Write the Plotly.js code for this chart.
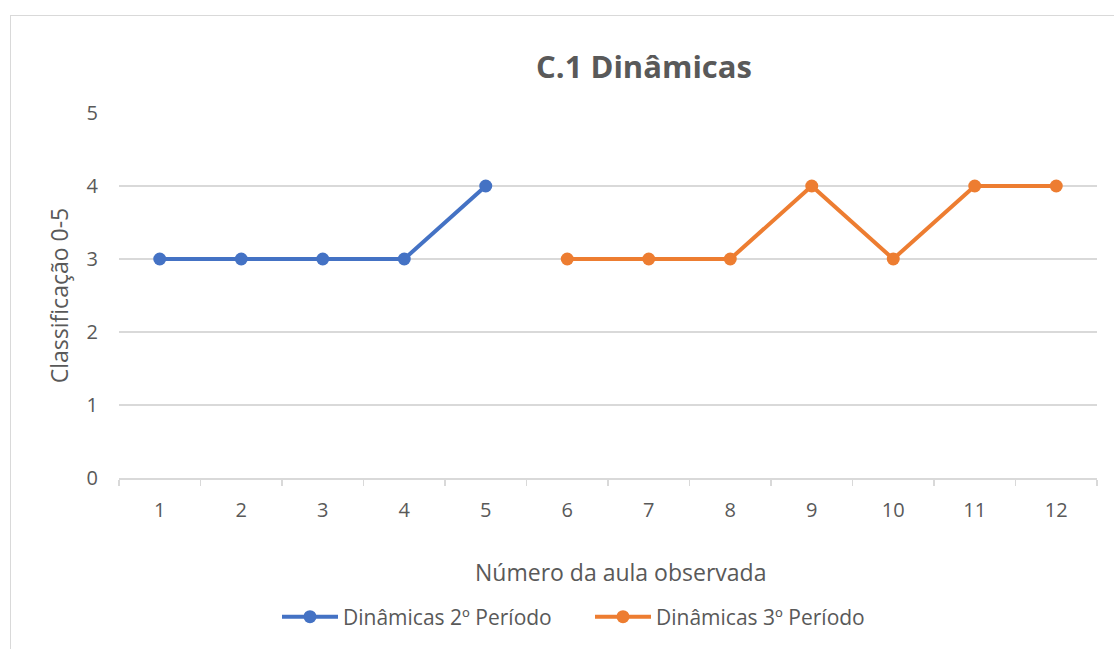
<!DOCTYPE html>
<html><head><meta charset="utf-8">
<script src="https://cdn.plot.ly/plotly-3.0.1.min.js"></script>
<style>
html,body{margin:0;padding:0;background:#fff;overflow:hidden;}
#wrap{position:relative;width:1114px;height:649px;}
#chart{position:absolute;left:0;top:0;width:1114px;height:649px;}
#frame{position:absolute;left:10px;top:15px;width:1200px;height:700px;border-left:1.5px solid #d9d9d9;border-top:1.5px solid #d9d9d9;pointer-events:none;}
</style></head>
<body><div id="wrap"><div id="chart"></div><div id="frame"></div></div>
<script>
const aulas2 = [1, 2, 3, 4, 5];
const valores2 = [3, 3, 3, 3, 4];
const aulas3 = [6, 7, 8, 9, 10, 11, 12];
const valores3 = [3, 3, 3, 4, 3, 4, 4];
const xTicks = [1,2,3,4,5,6,7,8,9,10,11,12];
const yTicks = [0,1,2,3,4,5];
const nome2 = "Dinâmicas 2º Período";
const nome3 = "Dinâmicas 3º Período";
const tituloX = "Número da aula observada";
const tituloY = "Classificação 0-5";

const font = "'Open Sans', sans-serif";
const grey = "#595959";

const traces = [
  {x: aulas2, y: valores2, name: nome2, type: "scatter", mode: "lines+markers",
   line: {color: "#4472C4", width: 4}, marker: {color: "#4472C4", size: 13}},
  {x: aulas3, y: valores3, name: nome3, type: "scatter", mode: "lines+markers",
   line: {color: "#ED7D31", width: 4}, marker: {color: "#ED7D31", size: 13}}
];

const layout = {
  width: 1114, height: 649,
  margin: {l: 119, r: 17, t: 113, b: 171},
  paper_bgcolor: "rgba(0,0,0,0)", plot_bgcolor: "rgba(0,0,0,0)",
  font: {family: font, color: grey, size: 20},
  title: {text: "<b>C.1 Dinâmicas</b>", font: {family: font, size: 31, color: grey},
          x: 644/1114, xanchor: "center", xref: "container", y: 1 - 67/649, yanchor: "middle", yref: "container"},
  xaxis: {range: [0.5, 12.5], tickvals: xTicks, ticktext: xTicks.map(String),
          showgrid: false, zeroline: false, showline: true, linecolor: "#d9d9d9", linewidth: 1.5,
          ticks: "", ticklabelstandoff: 13,
          minor: {tickmode: "linear", tick0: 0.5, dtick: 1, ticks: "outside", ticklen: 6, tickcolor: "#d9d9d9", tickwidth: 1.5, showgrid: false},
          tickfont: {size: 20, color: grey},
          fixedrange: true},
  yaxis: {range: [0, 5], tickvals: yTicks, showgrid: true, gridcolor: "#d9d9d9", gridwidth: 1.5,
          zeroline: false, showline: false, ticks: "", ticklabelstandoff: 20,
          tickfont: {size: 20, color: grey},
          title: {text: tituloY, font: {size: 23, color: grey}, standoff: 11},
          fixedrange: true},
  annotations: [
    {text: tituloX, xref: "paper", yref: "paper", x: (620-119)/978, y: -(572-478)/365,
     xanchor: "center", yanchor: "middle", showarrow: false, font: {size: 23, color: grey}}
  ],
  showlegend: true,
  legend: {orientation: "h", x: 277/1114, xref: "container", xanchor: "left", y: 1 - 617/649, yref: "container", yanchor: "middle",
           font: {size: 21, color: grey}, itemwidth: 56, entrywidth: 242, tracegroupgap: 0},
};

Plotly.newPlot("chart", traces, layout, {displayModeBar: false, staticPlot: true});
</script>
</body></html>
